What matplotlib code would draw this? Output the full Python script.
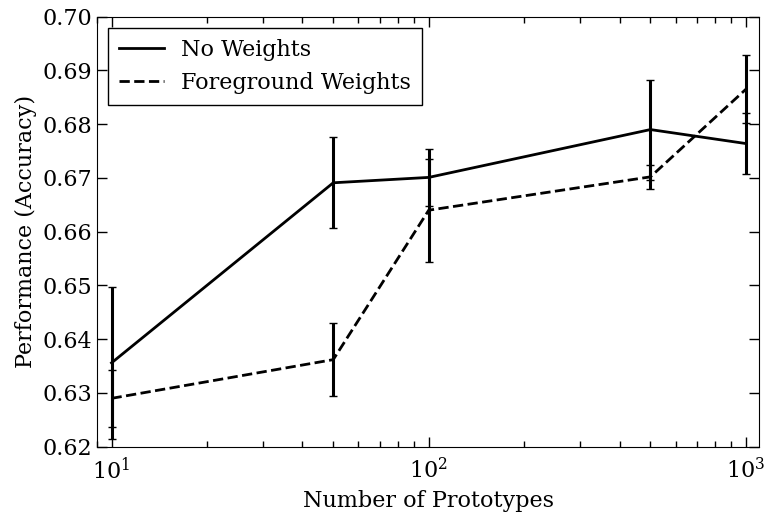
import matplotlib
matplotlib.use('Agg')
import matplotlib.pyplot as plt
from matplotlib.lines import Line2D
import numpy as np

prototypes = [10, 50, 100, 500, 1000]
no_weights = [0.6356, 0.6691, 0.6701, 0.6790, 0.6764]
no_weights_err = [0.0141, 0.0085, 0.0053, 0.0093, 0.0057]
fg_weights = [0.6290, 0.6362, 0.6640, 0.6702, 0.6865]
fg_weights_err = [0.0053, 0.0068, 0.0096, 0.0023, 0.0063]

plt.rcParams['font.family'] = ['DejaVu Serif']
plt.rcParams['mathtext.fontset'] = 'dejavuserif'
plt.rcParams['font.size'] = 16
plt.rcParams['xtick.direction'] = 'in'
plt.rcParams['ytick.direction'] = 'in'
plt.rcParams['xtick.top'] = True
plt.rcParams['ytick.right'] = True

fig = plt.figure(figsize=(7.67, 5.18), dpi=100)
ax = fig.add_axes([0.1265, 0.1376, 0.8631, 0.8302])

ax.errorbar(prototypes, no_weights, yerr=no_weights_err, color='black',
            linestyle='-', linewidth=2, elinewidth=2.2, capsize=3, capthick=1)
ax.errorbar(prototypes, fg_weights, yerr=fg_weights_err, color='black',
            linestyle='--', linewidth=2, elinewidth=2.2, capsize=3, capthick=1)

ax.set_xscale('log')
ax.set_xlim(9, 1100)
ax.set_ylim(0.62, 0.70)
ax.set_yticks(np.arange(0.62, 0.7001, 0.01))
ax.yaxis.set_major_formatter(matplotlib.ticker.FormatStrFormatter('%.2f'))
ax.tick_params(which='major', length=7, width=1)
ax.tick_params(which='minor', length=4, width=1)
ax.tick_params(axis='x', pad=8)

ax.set_xlabel('Number of Prototypes')
ax.set_ylabel('Performance (Accuracy)')

handles = [Line2D([], [], color='black', linestyle='-', linewidth=2),
           Line2D([], [], color='black', linestyle='--', linewidth=2)]
leg = ax.legend(handles, ['No Weights', 'Foreground Weights'], loc='upper left',
                fancybox=False, handlelength=2.0, borderaxespad=0.5,
                borderpad=0.5, framealpha=1)
leg.get_frame().set_edgecolor('black')

fig.savefig('out.png', dpi=100)
